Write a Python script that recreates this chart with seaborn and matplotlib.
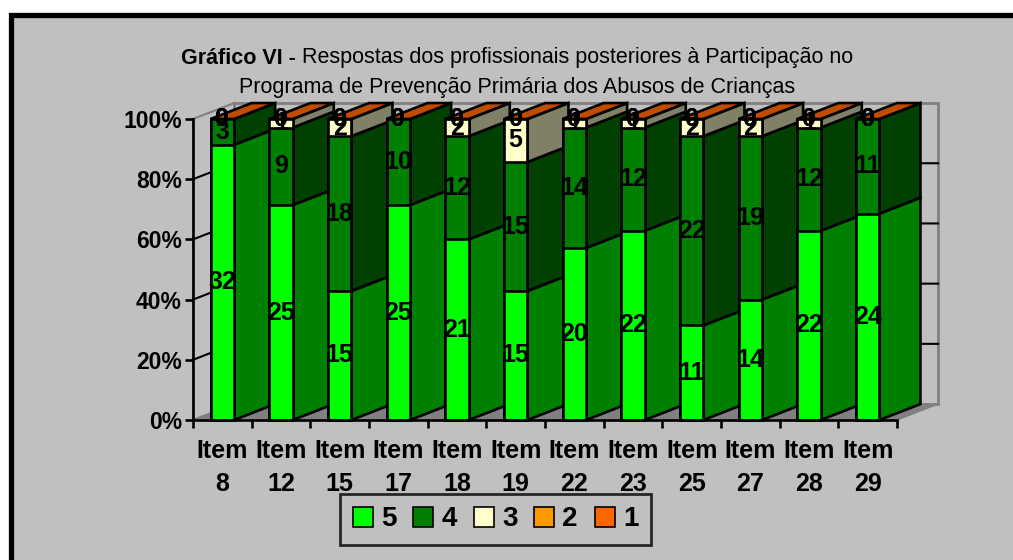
import numpy as np
import pandas as pd
import matplotlib
matplotlib.use("Agg")
import matplotlib.pyplot as plt
import seaborn as sns
from matplotlib.patches import Polygon, Rectangle, Patch

# ---------------- data ----------------
items = ["8", "12", "15", "17", "18", "19", "22", "23", "25", "27", "28", "29"]
tick_labels = ["Item\n" + s for s in items]
resp5 = [32, 25, 15, 25, 21, 15, 20, 22, 11, 14, 22, 24]
resp4 = [3, 9, 18, 10, 12, 15, 14, 12, 22, 19, 12, 11]
resp3 = [0, 1, 2, 0, 2, 5, 1, 1, 2, 2, 1, 0]
resp2 = [0, 0, 0, 0, 0, 0, 0, 0, 0, 0, 0, 0]
resp1 = [0, 0, 0, 0, 0, 0, 0, 0, 0, 0, 0, 0]
series_names = ["5", "4", "3", "2", "1"]
yticks = [0, 20, 40, 60, 80, 100]

front_colors = ["#00FF00", "#008000", "#FFFFCC", "#FF9900", "#FF6600"]
side_colors = ["#008000", "#004000", "#808066", "#804C00", "#803300"]
top_colors = ["#00C000", "#006000", "#C0C099", "#C07300", "#C04C00"]

BG = "#C0C0C0"
FONT = "Liberation Sans"
plt.rcParams["font.family"] = [FONT, "DejaVu Sans"]

W, H = 1013, 560
fig = plt.figure(figsize=(W / 100, H / 100), dpi=100, facecolor="white")

# outer chart-area frame
fig.add_artist(Rectangle((10.5 / W, -0.2), 1.3, (1 - 14.5 / H) + 0.2,
                         transform=fig.transFigure, facecolor=BG,
                         edgecolor="black", linewidth=3.8, zorder=0))

ax = fig.add_axes([193 / W, 1 - 420 / H, 704 / W, 301 / H])
ax.patch.set_visible(False)

vals = np.array([resp5, resp4, resp3, resp2, resp1], dtype=float)
totals = vals.sum(axis=0)
pct = vals / totals * 100
cum = np.cumsum(pct, axis=0)
n = len(items)
xs = np.arange(n)

bw = 0.4          # front face width (category units)
dx, dy = 0.70, 5.3  # depth offset (category units, percent)
LW = 1.9

# ---------- walls & floor ----------
x0, x1 = -0.5, n - 0.5
ax.add_patch(Polygon([(x0, 0), (x1, 0), (x1 + dx, dy), (x0 + dx, dy)],
                     closed=True, facecolor="#808080", edgecolor="#808080",
                     lw=1, zorder=0.5, clip_on=False))
ax.add_patch(Polygon([(x0, 0), (x0, 100), (x0 + dx, 100 + dy), (x0 + dx, dy)],
                     closed=True, facecolor=BG, edgecolor="#808080",
                     lw=1.5, zorder=0.4, clip_on=False))
ax.add_patch(Polygon([(x0 + dx, dy), (x0 + dx, 100 + dy), (x1 + dx, 100 + dy), (x1 + dx, dy)],
                     closed=True, facecolor=BG, edgecolor="#808080",
                     lw=2, zorder=0.4, clip_on=False))
for v in yticks[1:-1]:
    ax.plot([x0, x0 + dx, x1 + dx], [v, v + dy, v + dy], color="black",
            lw=1.5, zorder=1, clip_on=False)

# ---------- side and top faces ----------
for i in range(n):
    xr = xs[i] + bw / 2
    for k in range(len(series_names)):
        b = cum[k][i] - pct[k][i]
        t = cum[k][i]
        if t - b > 0:
            ax.add_patch(Polygon([(xr, b), (xr + dx, b + dy), (xr + dx, t + dy), (xr, t)],
                                 closed=True, facecolor=side_colors[k],
                                 edgecolor="black", lw=LW, zorder=2, clip_on=False))
    top = cum[-1][i]
    xl = xs[i] - bw / 2
    ax.add_patch(Polygon([(xl, top), (xl + dx, top + dy), (xr + dx, top + dy), (xr, top)],
                         closed=True, facecolor=top_colors[-1],
                         edgecolor="black", lw=LW, zorder=2, clip_on=False))

# ---------- front faces via seaborn (overlaid cumulative bars) ----------
for k in range(len(series_names) - 1, -1, -1):
    sns.barplot(x=items, y=cum[k], color=front_colors[k], saturation=1,
                width=bw, edgecolor="black", linewidth=LW, errorbar=None,
                ax=ax, zorder=3, clip_on=False)

# ---------- value labels ----------
for k in range(len(series_names)):
    for i in range(n):
        yc = cum[k][i] - pct[k][i] / 2
        ax.text(xs[i], yc, f"{int(vals[k][i])}", ha="center", va="center",
                fontsize=18, fontweight="bold", color="black", zorder=6,
                clip_on=False)

# ---------- axes styling ----------
ax.set_xlim(x0, x1)
ax.set_ylim(0, 100)
for s in ["top", "right"]:
    ax.spines[s].set_visible(False)
for s in ["left", "bottom"]:
    ax.spines[s].set_color("black")
    ax.spines[s].set_linewidth(LW)
    ax.spines[s].set_zorder(4)
ax.set_yticks(yticks)
ax.set_yticklabels([f"{v}%" for v in yticks], fontsize=16.5, fontweight="bold")
ax.tick_params(axis="y", length=6, width=LW, pad=2, color="black")
ax.set_xticks(xs)
ax.set_xticklabels(tick_labels, fontsize=18, fontweight="bold", linespacing=1.45)
ax.tick_params(axis="x", which="major", length=0, pad=14)
ax.set_xticks(np.arange(n + 1) - 0.5, minor=True)
ax.tick_params(axis="x", which="minor", length=6, width=LW, color="black")
ax.set_xlabel("")
ax.set_ylabel("")
ax.grid(False)

# ---------- legend ----------
handles = [Patch(facecolor=c, edgecolor="black", linewidth=1.2) for c in front_colors]
leg = fig.legend(handles, series_names, loc="center",
                 bbox_to_anchor=(495.5 / W, 1 - 519.5 / H), ncol=5,
                 prop={"family": FONT, "weight": "bold", "size": 20},
                 handlelength=0.72, handleheight=0.72, handletextpad=0.3,
                 columnspacing=0.6, borderpad=0.45, frameon=True, fancybox=False)
leg.get_frame().set_facecolor(BG)
leg.get_frame().set_edgecolor("black")
leg.get_frame().set_linewidth(2)

# ---------- title ----------
fig.canvas.draw()
r = fig.canvas.get_renderer()
TS = 15.5
t1 = fig.text(0, 1 - 58 / H, "Gráfico VI -", fontsize=TS, fontweight="bold", ha="left", va="center")
t2 = fig.text(0, 1 - 58 / H, " Respostas dos profissionais posteriores à Participação no",
              fontsize=TS, ha="left", va="center")
w1 = t1.get_window_extent(r).width
w2 = t2.get_window_extent(r).width
start = 517 - (w1 + w2) / 2
t1.set_x(start / W)
t2.set_x((start + w1) / W)
fig.text(517 / W, 1 - 87 / H, "Programa de Prevenção Primária dos Abusos de Crianças",
         fontsize=TS, ha="center", va="center")

fig.savefig("out.png", dpi=100, facecolor="white")
